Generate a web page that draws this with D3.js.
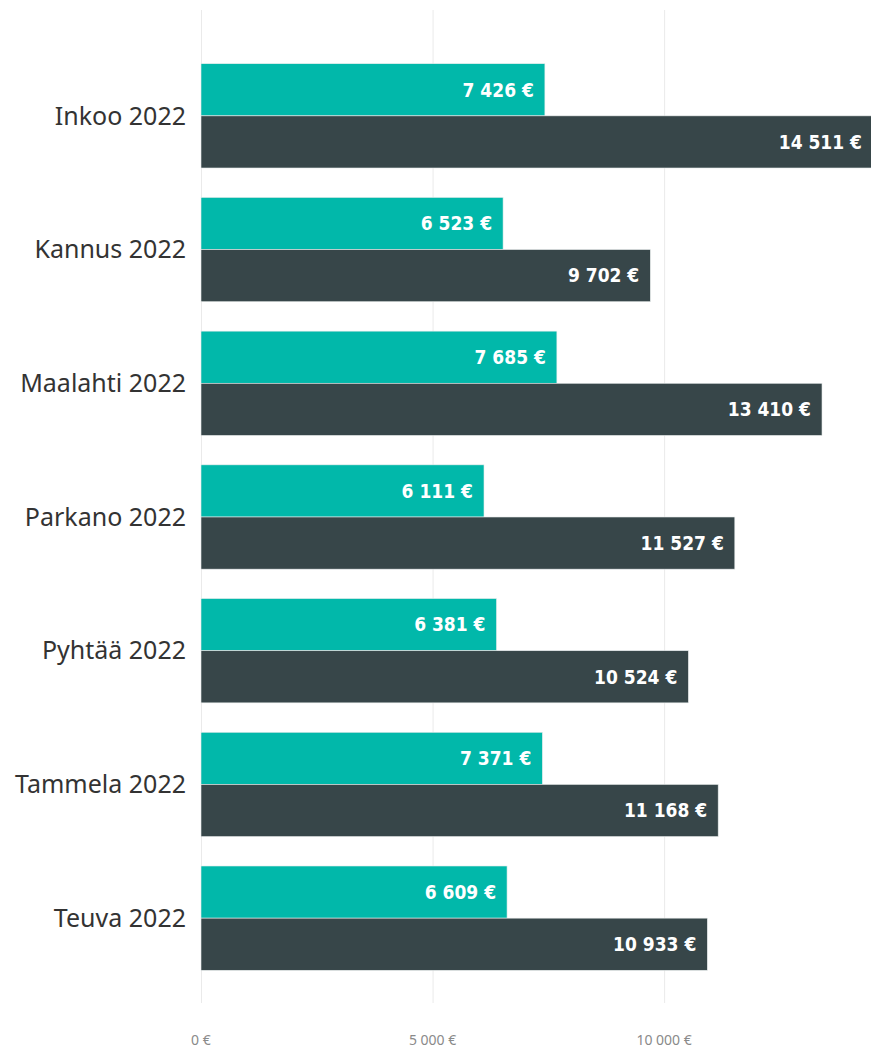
<!DOCTYPE html>
<html>
<head>
<meta charset="utf-8">
<script src="https://cdn.jsdelivr.net/npm/d3@7"></script>
<style>
  body { margin: 0; background: #fff; }
  svg { display: block; }
</style>
</head>
<body>
<div id="chart"></div>
<script>
var municipalities = ["Inkoo 2022", "Kannus 2022", "Maalahti 2022", "Parkano 2022", "Pyhtää 2022", "Tammela 2022", "Teuva 2022"];
var seriesA = [7426, 6523, 7685, 6111, 6381, 7371, 6609];
var seriesB = [14511, 9702, 13410, 11527, 10524, 11168, 10933];
var seriesKeys = ["a", "b"];
var tickValues = [0, 5000, 10000];

var width = 871, height = 1051;
var colors = { a: "#01B8AA", b: "#374649" };

var locale = d3.formatLocale({ decimal: ",", thousands: "\u00a0", grouping: [3], currency: ["", "\u00a0€"] });
var fmt = locale.format("$,.0f");

var rows = municipalities.map(function(m, i) {
  return { name: m, a: seriesA[i], b: seriesB[i] };
});

var svg = d3.select("#chart").append("svg")
  .attr("width", width)
  .attr("height", height);

var x = d3.scaleLinear()
  .domain([0, d3.max(seriesB)])
  .range([201, 873]);

var y = d3.scaleBand()
  .domain(municipalities)
  .range([49, 985])
  .paddingInner(0.22)
  .paddingOuter(0.11);

var ySub = d3.scaleBand()
  .domain(seriesKeys)
  .range([0, y.bandwidth()]);

// gridlines
svg.append("g")
  .selectAll("line")
  .data(tickValues)
  .enter().append("line")
    .attr("x1", d => x(d) + 0.5)
    .attr("x2", d => x(d) + 0.5)
    .attr("y1", 10)
    .attr("y2", 1003)
    .attr("stroke", "#eaeaea")
    .attr("stroke-width", 1);

// x tick labels
svg.append("g")
  .selectAll("text")
  .data(tickValues)
  .enter().append("text")
    .attr("x", d => x(d))
    .attr("y", 1045)
    .attr("text-anchor", (d, i) => i == 0 ? "start" : "middle")
    .attr("dx", (d, i) => i == 0 ? -10 : 0)
    .attr("font-family", "'Noto Sans', 'Open Sans', sans-serif")
    .attr("font-size", 14)
    .attr("fill", "#8a8a8a")
    .text(d => fmt(d));

// bars
var group = svg.append("g")
  .selectAll("g")
  .data(rows)
  .enter().append("g")
    .attr("transform", d => "translate(0," + y(d.name) + ")");

seriesKeys.forEach(function(k) {
  group.append("rect")
    .attr("x", x(0))
    .attr("y", ySub(k))
    .attr("width", d => x(d[k]) - x(0))
    .attr("height", ySub.bandwidth())
    .attr("fill", colors[k])
    .attr("stroke", "#e8ecec")
    .attr("stroke-width", 0.6);

  group.append("text")
    .attr("x", d => x(d[k]) - 11)
    .attr("y", ySub(k) + ySub.bandwidth() / 2)
    .attr("dy", "0.36em")
    .attr("text-anchor", "end")
    .attr("font-family", "'DejaVu Sans Condensed', 'DejaVu Sans', sans-serif")
    .attr("font-stretch", "condensed")
    .attr("font-weight", "bold")
    .attr("font-size", 19)
    .attr("fill", "#fff")
    .text(d => fmt(d[k]));
});

// category labels
group.append("text")
  .attr("x", 186)
  .attr("y", y.bandwidth() / 2)
  .attr("dy", "0.35em")
  .attr("text-anchor", "end")
  .attr("font-family", "'Noto Sans', 'Open Sans', sans-serif")
  .attr("font-size", 25)
  .attr("fill", "#333")
  .text(d => d.name);
</script>
</body>
</html>
